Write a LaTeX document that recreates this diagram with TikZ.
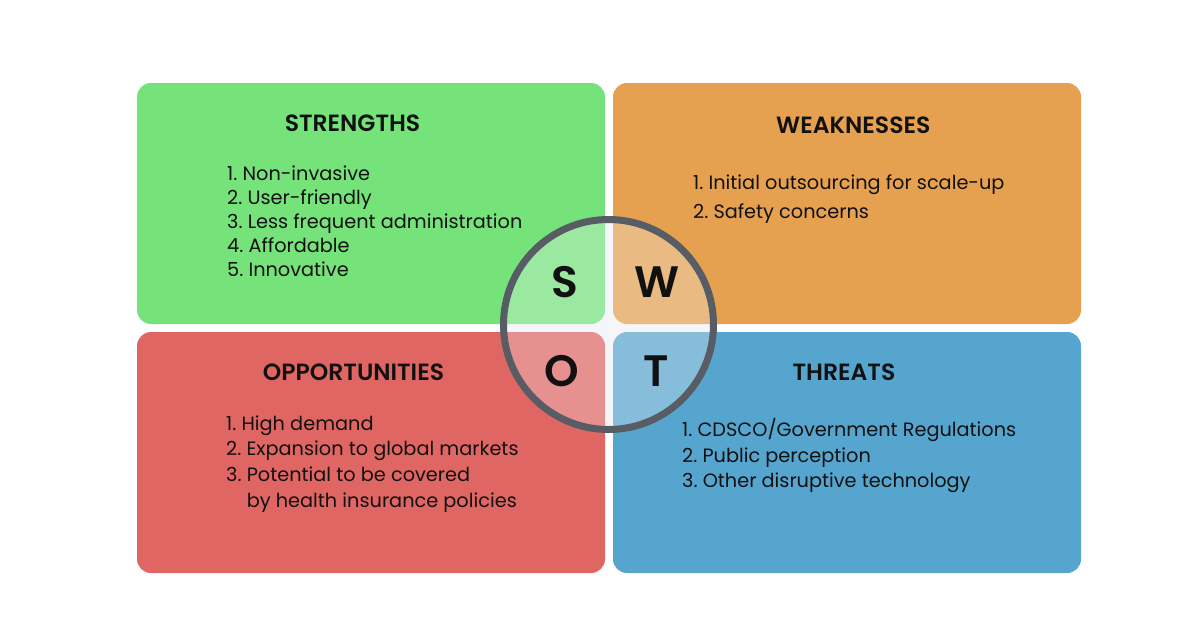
\documentclass[tikz,border=0pt]{standalone}
\usepackage{fontspec}
\setmainfont{Poppins}[BoldFont={Poppins SemiBold}]
\frenchspacing
\definecolor{sgreen}{HTML}{75E37A}
\definecolor{worange}{HTML}{E5A150}
\definecolor{ored}{HTML}{E06663}
\definecolor{tblue}{HTML}{56A5CE}
\definecolor{hubgray}{HTML}{F5F6FA}
\definecolor{ringgray}{HTML}{585C64}
\definecolor{ink}{HTML}{111111}
\begin{document}
\begin{tikzpicture}[x=1pt,y=-1pt,
  quad/.style={rectangle, rounded corners=14pt, minimum width=468pt,
    minimum height=241pt, inner sep=0pt, outer sep=0pt, draw=none},
  heading/.style={font=\fontsize{23.5}{24}\selectfont\bfseries, text=ink,
    anchor=base, inner sep=0pt},
  item/.style={font=\fontsize{19.3}{24}\selectfont, text=ink,
    anchor=base west, inner sep=0pt},
  letter/.style={font=\fontsize{44}{44}\selectfont\bfseries, text=ink,
    anchor=base, inner sep=0pt}]
\useasboundingbox (0,0) rectangle (1200,630);
\fill[white] (0,0) rectangle (1200,630);

% the four quadrants
\node[quad, fill=sgreen]  (S) at (371,203.5) {};
\node[quad, fill=worange] (W) at (847,203.5) {};
\node[quad, fill=ored]    (O) at (371,452.5) {};
\node[quad, fill=tblue]   (T) at (847,452.5) {};

% paler tint of the quadrants inside the central ring
\begin{scope}
  \clip (608.5,324.5) circle (105pt);
  \fill[hubgray] (608.5,324.5) circle (105pt);
  \node[quad, fill=sgreen,  fill opacity=0.7] at (371,203.5) {};
  \node[quad, fill=worange, fill opacity=0.7] at (847,203.5) {};
  \node[quad, fill=ored,    fill opacity=0.7] at (371,452.5) {};
  \node[quad, fill=tblue,   fill opacity=0.7] at (847,452.5) {};
\end{scope}
\node[circle, draw=ringgray, line width=7pt, minimum size=210pt,
  inner sep=0pt] (ring) at (608.5,324.5) {};

% headings
\node[heading] (s-head) at (352.5,131.7) {STRENGTHS};
\node[heading] (w-head) at (853.3,133) {WEAKNESSES};
\node[heading] (o-head) at (353.5,380) {OPPORTUNITIES};
\node[heading] (t-head) at (844,380) {THREATS};

% lists
\foreach \t [count=\i] in {Non-invasive, User-friendly,
    Less frequent administration, Affordable, Innovative}
  \node[item] (s-\i) at (227,{180+24*(\i-1)}) {\i. \t};
\foreach \t [count=\i] in {Initial outsourcing for scale-up, Safety concerns}
  \node[item] (w-\i) at (693,{189.3+29*(\i-1)}) {\i. \t};
\foreach \t [count=\i] in {High demand, Expansion to global markets,
    Potential to be covered}
  \node[item] (o-\i) at (226,{430+25.9*(\i-1)}) {\i. \t};
\node[item] (o-4) at (226,507.7) {\phantom{3.~}by health insurance policies};
\foreach \t [count=\i] in {CDSCO/Government Regulations, Public perception,
    Other disruptive technology}
  \node[item] (t-\i) at (682,{436.7+25.5*(\i-1)}) {\i. \t};

% ring letters
\node[letter] (s-letter) at (565.3,297) {S};
\node[letter] (w-letter) at (656.7,297.5) {W};
\node[letter] (o-letter) at (562.2,386.7) {O};
\node[letter] (t-letter) at (655.8,386.7) {T};
\end{tikzpicture}
\end{document}
